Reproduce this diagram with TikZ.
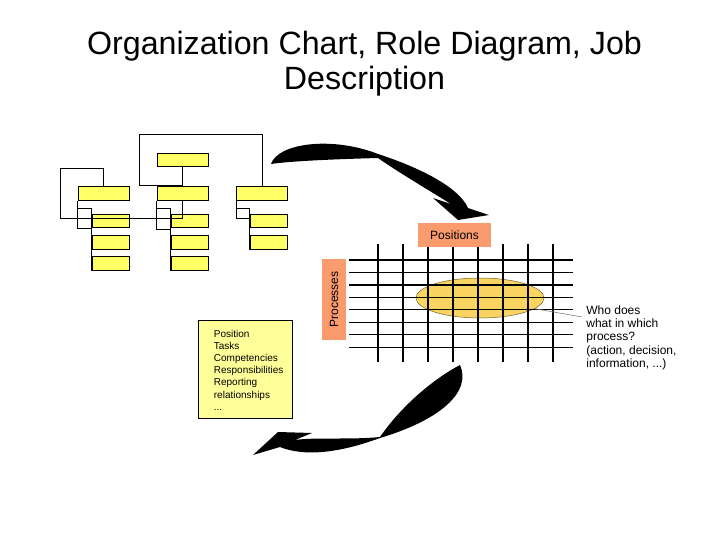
\documentclass[tikz,border=0pt]{standalone}
\usepackage{fontspec}
\setmainfont{Liberation Sans}
\usetikzlibrary{shapes.geometric}
\definecolor{orgyellow}{RGB}{255,255,102}
\definecolor{notepad}{RGB}{255,255,153}
\definecolor{salmon}{RGB}{250,155,110}
\definecolor{gold}{RGB}{249,212,98}
\tikzset{
  orgbox/.style={draw,fill=orgyellow,inner sep=0pt,minimum width=51pt,minimum height=13.5pt},
  subbox/.style={orgbox,minimum width=37pt},
  tag/.style={fill=salmon,inner sep=0pt,minimum width=73pt,minimum height=24pt,font=\fontsize{12}{14}\selectfont},
  gridline/.style={line width=1.2pt},
}
\begin{document}
\begin{tikzpicture}[x=1pt,y=-1pt,line width=.8pt]
    \useasboundingbox (0,0) rectangle (728,546);
    \node[font=\fontsize{32.2}{35}\selectfont,anchor=base] (head1) at (364.5,54) {Organization Chart, Role Diagram, Job};
    \node[font=\fontsize{32.2}{35}\selectfont,anchor=base] (head2) at (364.5,89) {Description};

    \node[orgbox] (top) at (182.5,160) {};
    \foreach \c/\x in {l/103.5,m/182.5,r/262}
      {\node[orgbox] (\c) at (\x,193.5) {};}
    \foreach \c/\x in {l/110.5,m/189.5,r/268.5}
      {\node[subbox] (\c1) at (\x,221) {};
       \node[subbox] (\c2) at (\x,242.5) {};}
    \node[subbox] (l3) at (110.5,263.5) {};
    \node[subbox] (m3) at (189.5,263.5) {};
    \draw (top.south) -- ++(0,18) -| (139,134) -| (r.north);
    \draw (l.north) |- (60,168) -- (60,218) -| (m.south);
    \foreach \c/\d/\e in {l/28/3,m/29/3,r/18/2}
      {\draw (\c.south west) -- ++(0,\d) -| (\c1.north west);
       \draw (\c.south west) ++(0,8) -| (\c\e.south west);}

    \node[ellipse,fill=gold,draw=gold!45!black,line width=.5pt,minimum width=128pt,minimum height=40pt,inner sep=0pt] (spot) at (480,298) {};
    \foreach \i in {1,...,7}
      {\draw[gridline] (349,{260+12.45*\i}) -- (573,{260+12.45*\i});
       \draw[gridline] ({378+25*\i},244) -- ({378+25*\i},362);}
    \draw[line width=2.5pt] (349,260) -- (573,260);
    \draw[line width=2.5pt] (378,244) -- (378,362);
    \node[tag] (pos) at (454.5,235) {Positions};
    \node[tag,rotate=90,minimum width=81pt] (proc) at (334,299.5) {Processes};
    \coordinate (tip) at (582,317);
    \draw[gray,line width=.6pt] (spot.-11) -- (tip);
    \node[anchor=north west,align=left,inner sep=0pt,font=\fontsize{12}{13.3}\selectfont] (who) at (586,305)
      {Who does\\what in which\\process?\\(action, decision,\\information, ...)};

    \node[draw,fill=notepad,minimum width=94pt,minimum height=98pt,inner sep=0pt] (roles) at (245,369) {};
    \node[anchor=north west,align=left,inner sep=0pt,font=\fontsize{10}{12.2}\selectfont] (duties) at (213.5,329.5)
      {Position\\Tasks\\Competencies\\Responsibilities\\Reporting\\relationships\\...};

    \fill (271,164) .. controls (278,143) and (332,136) .. (378,154)
      .. controls (412,165) and (458,185) .. (468,208) -- (489,215) -- (458,220) -- (433,198) -- (451,204)
      .. controls (425,188) and (395,170) .. (378,158) .. controls (340,159) and (290,161) .. (271,164) -- cycle;
    \fill (460,365) .. controls (435,378) and (402,405) .. (380,437)
      .. controls (350,440) and (315,437) .. (295,440) -- (312,433) -- (278,432) -- (253,455) -- (280,447)
      .. controls (310,459) and (350,449) .. (380,438) .. controls (440,420) and (472,392) .. (460,365) -- cycle;
  \end{tikzpicture}
\end{document}
